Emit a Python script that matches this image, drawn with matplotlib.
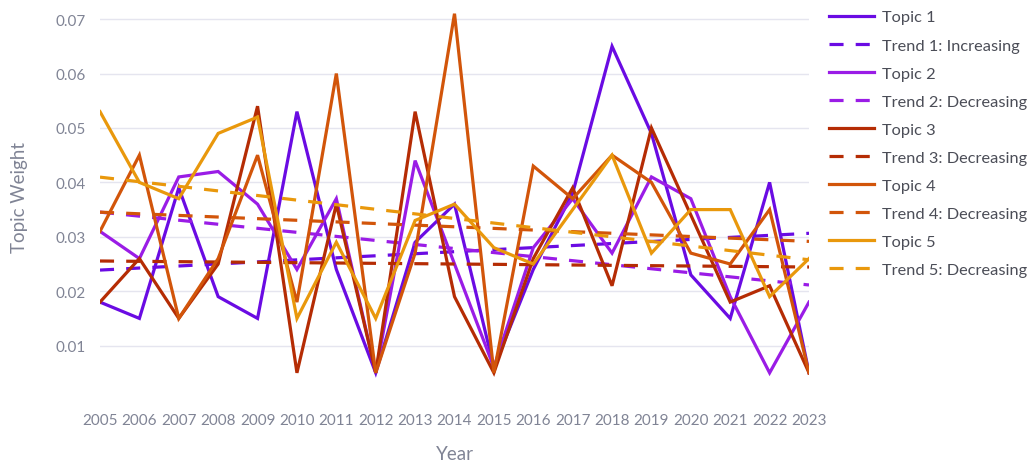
import numpy as np
import matplotlib
matplotlib.use('Agg')
import matplotlib.pyplot as plt

# data
years = list(range(2005, 2024))

topic1 = [0.018, 0.015, 0.039, 0.019, 0.015, 0.053, 0.024, 0.005, 0.029, 0.036,
          0.006, 0.024, 0.038, 0.065, 0.049, 0.023, 0.015, 0.040, 0.005]
topic2 = [0.031, 0.026, 0.041, 0.042, 0.036, 0.024, 0.037, 0.005, 0.044, 0.025,
          0.006, 0.028, 0.037, 0.027, 0.041, 0.037, 0.019, 0.005, 0.018]
topic3 = [0.018, 0.026, 0.015, 0.025, 0.054, 0.005, 0.036, 0.005, 0.053, 0.019,
          0.005, 0.026, 0.039, 0.021, 0.050, 0.034, 0.018, 0.021, 0.005]
topic4 = [0.031, 0.045, 0.015, 0.026, 0.045, 0.018, 0.060, 0.005, 0.027, 0.071,
          0.005, 0.043, 0.037, 0.045, 0.040, 0.027, 0.025, 0.035, 0.005]
topic5 = [0.053, 0.040, 0.037, 0.049, 0.052, 0.015, 0.029, 0.015, 0.033, 0.036,
          0.028, 0.025, 0.035, 0.045, 0.027, 0.035, 0.035, 0.019, 0.026]

topic_names = ['Topic 1', 'Topic 2', 'Topic 3', 'Topic 4', 'Topic 5']
trend_names = ['Trend 1: Increasing', 'Trend 2: Decreasing', 'Trend 3: Decreasing',
               'Trend 4: Decreasing', 'Trend 5: Decreasing']
y_ticks = [0.01, 0.02, 0.03, 0.04, 0.05, 0.06, 0.07]

colors = ['#6a0be3', '#9a1ce6', '#b52c04', '#d2550a', '#e9980c']
tick_color = '#808495'
legend_text_color = '#4b4d57'

plt.rcParams['font.family'] = ['Lato', 'DejaVu Sans']

fig = plt.figure(figsize=(10.33, 4.64), dpi=100)
ax = fig.add_axes([100 / 1033, 1 - 395.6 / 464, 709 / 1033, 395.6 / 464])

series = [topic1, topic2, topic3, topic4, topic5]
x = np.array(years)
for vals, col, tname, rname in zip(series, colors, topic_names, trend_names):
    ax.plot(x, vals, color=col, lw=2.3, label=tname, solid_joinstyle='miter')
    # linear trend fitted to the series
    k, b = np.polyfit(x, vals, 1)
    ax.plot(x, k * x + b, color=col, lw=2.3, linestyle=(0, (4.4, 3.8)), label=rname)

ax.set_xlim(2005, 2023)
ax.set_ylim(0.001, 0.0737)
ax.set_xticks(years)
ax.set_xticklabels([str(y) for y in years])
ax.set_yticks(y_ticks)
ax.set_yticklabels([f'{v:.2f}' for v in y_ticks])
ax.tick_params(axis='both', length=0, labelsize=11, labelcolor=tick_color)
ax.tick_params(axis='x', pad=13)
ax.tick_params(axis='y', pad=10)
ax.grid(axis='y', color='#e5e5ef', lw=1)
ax.set_axisbelow(True)
for s in ax.spines.values():
    s.set_visible(False)

ax.set_xlabel('Year', fontsize=13.5, color=tick_color)
ax.set_ylabel('Topic Weight', fontsize=13.5, color=tick_color)
ax.xaxis.set_label_coords(0.5, (395.6 - 455) / 395.6)
ax.yaxis.set_label_coords((20 - 100) / 709, 0.5)
ax.xaxis.label.set_va('center')
ax.yaxis.label.set_va('center')

leg = ax.legend(loc='upper left', bbox_to_anchor=(829 / 1033, 1 - 11 / 464),
                bbox_transform=fig.transFigure, frameon=False, fontsize=11.8,
                handlelength=2.75, handletextpad=0.49, labelspacing=0.83,
                borderpad=0, borderaxespad=0)
for t in leg.get_texts():
    t.set_color(legend_text_color)

fig.savefig('out.png', dpi=100, facecolor='white')
